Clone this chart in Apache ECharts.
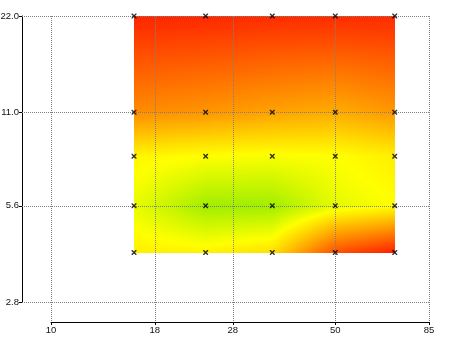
<!DOCTYPE html>
<html><head><meta charset="utf-8">
<script src="https://cdn.jsdelivr.net/npm/echarts@6/dist/echarts.min.js"></script>
<style>html,body{margin:0;padding:0;background:#fff}#c{width:450px;height:337px}</style>
</head><body><div id="c"></div>
<script>
// grid node positions
const xValues = [16, 24, 35, 50, 70];
const yValues = [4, 5.6, 8, 11, 22];
// values (0 = green, ~0.3 = yellow, 1 = red) per row, across xValues
const zAtY4   = [0.35, 0.34, 0.40, 0.85, 1.00];
const zAtY5_6 = [0.25, 0.08, 0.08, 0.24, 0.30];
const zAtY8   = [0.33, 0.30, 0.29, 0.30, 0.35];
const zAtY11  = [0.66, 0.63, 0.59, 0.56, 0.62];
const zAtY22  = [0.98, 0.97, 0.96, 0.96, 0.96];
const zRows = [zAtY4, zAtY5_6, zAtY8, zAtY11, zAtY22];
// tick labels
const xTickLabels = [10, 18, 28, 50, 85];
const yTickLabels = [2.8, 5.6, 11.0, 22.0];

const colorStops = [[0, '#7fe800'], [0.3, '#ffff00'], [1, '#ff1e00']];
function hex(h){return [parseInt(h.slice(1,3),16),parseInt(h.slice(3,5),16),parseInt(h.slice(5,7),16)];}
const stopsRGB = colorStops.map(s => [s[0], hex(s[1])]);
function colorFor(v){
  v = Math.max(0, Math.min(1, v));
  for (let k = 0; k < stopsRGB.length - 1; k++) {
    const a = stopsRGB[k], b = stopsRGB[k+1];
    if (v <= b[0]) {
      const t = (v - a[0]) / (b[0] - a[0]);
      const c = a[1].map((ch, m) => Math.round(ch + (b[1][m] - ch) * t));
      return 'rgb(' + c.join(',') + ')';
    }
  }
  const l = stopsRGB[stopsRGB.length-1][1];
  return 'rgb(' + l.join(',') + ')';
}

const cells = [];
for (let j = 0; j < yValues.length - 1; j++)
  for (let i = 0; i < xValues.length - 1; i++)
    cells.push([xValues[i], yValues[j], i, j]);

const points = [];
yValues.forEach(y => xValues.forEach(x => points.push([x, y])));

const Y_AXIS_OFFSET = 29, X_AXIS_OFFSET = 20;

function renderCell(params, api){
  const i = api.value(2), j = api.value(3);
  const pBL = api.coord([xValues[i], yValues[j]]);
  const pTR = api.coord([xValues[i+1], yValues[j+1]]);
  const x0 = Math.round(pBL[0]), x1 = Math.round(pTR[0]);
  const yb = Math.round(pBL[1]), yt = Math.round(pTR[1]);
  const z00 = zRows[j][i], z10 = zRows[j][i+1], z01 = zRows[j+1][i], z11 = zRows[j+1][i+1];
  const children = [];
  const N = 12;
  for (let py = yt; py < yb; py++) {
    const t = (yb - (py + 0.5)) / (yb - yt);
    const vL = z00 + (z01 - z00) * t;
    const vR = z10 + (z11 - z10) * t;
    const stops = [];
    for (let k = 0; k <= N; k++) {
      stops.push({offset: k / N, color: colorFor(vL + (vR - vL) * k / N)});
    }
    children.push({
      type: 'rect',
      shape: {x: x0, y: py, width: x1 - x0, height: 1},
      style: {fill: {type: 'linear', x: 0, y: 0, x2: 1, y2: 0, colorStops: stops}},
      silent: true
    });
  }
  return {type: 'group', children: children};
}

const chart = echarts.init(document.getElementById('c'), null, {renderer: 'canvas'});
chart.setOption({
  animation: false,
  backgroundColor: '#fff',
  grid: {left: 51, right: 21, top: 16, bottom: 35, containLabel: false, outerBoundsMode: 'none'},
  xAxis: {
    type: 'log', logBase: 10, min: 10, max: 85, offset: X_AXIS_OFFSET,
    axisLine: {show: true, lineStyle: {color: '#000', width: 1}},
    axisTick: {show: true, length: 3, customValues: xTickLabels, lineStyle: {color: '#000'}},
    axisLabel: {customValues: xTickLabels, margin: 3, fontSize: 9.5, color: '#111', fontFamily: 'Liberation Sans, Arial, sans-serif',
      formatter: v => String(Math.round(v))},
    splitLine: {show: false}, minorTick: {show: false}
  },
  yAxis: {
    type: 'log', logBase: 2, min: 2.8, max: 22, offset: Y_AXIS_OFFSET,
    axisLine: {show: true, lineStyle: {color: '#000', width: 1}},
    axisTick: {show: true, length: 3, customValues: yTickLabels, lineStyle: {color: '#000'}},
    axisLabel: {customValues: yTickLabels, margin: 3, fontSize: 9.5, color: '#111', fontFamily: 'Liberation Sans, Arial, sans-serif',
      formatter: v => Number(v).toFixed(1)},
    splitLine: {show: false}, minorTick: {show: false}
  },
  series: [
    {
      type: 'custom', name: 'heat', z: 1, silent: true,
      encode: {x: 0, y: 1},
      data: cells,
      renderItem: renderCell
    },
    {
      type: 'custom', name: 'hgrid', z: 2, silent: true,
      encode: {x: 0, y: 1},
      data: yTickLabels.map(v => [xTickLabels[0], v]),
      renderItem: function(params, api){
        const p = api.coord([api.value(0), api.value(1)]);
        const cs = params.coordSys;
        const y = Math.round(p[1]) + 0.5;
        return {type: 'line', silent: true,
          shape: {x1: Math.round(cs.x - Y_AXIS_OFFSET), y1: y, x2: Math.round(cs.x + cs.width), y2: y},
          style: {stroke: '#808080', lineWidth: 1, lineDash: [1, 1]}};
      }
    },
    {
      type: 'custom', name: 'vgrid', z: 2, silent: true,
      encode: {x: 0, y: 1},
      data: xTickLabels.map(v => [v, yTickLabels[0]]),
      renderItem: function(params, api){
        const p = api.coord([api.value(0), api.value(1)]);
        const cs = params.coordSys;
        const x = Math.round(p[0]) + 0.5;
        return {type: 'line', silent: true,
          shape: {x1: x, y1: Math.round(cs.y), x2: x, y2: Math.round(cs.y + cs.height + X_AXIS_OFFSET)},
          style: {stroke: '#808080', lineWidth: 1, lineDash: [1, 1]}};
      }
    },
    {
      type: 'scatter', name: 'points', z: 3, silent: true,
      data: points,
      symbol: 'path://M0,0L2,0L5,3L8,0L10,0L10,2L7,5L10,8L10,10L8,10L5,7L2,10L0,10L0,8L3,5L0,2Z',
      symbolSize: 5,
      itemStyle: {color: '#000'}
    }
  ]
});
</script></body></html>
